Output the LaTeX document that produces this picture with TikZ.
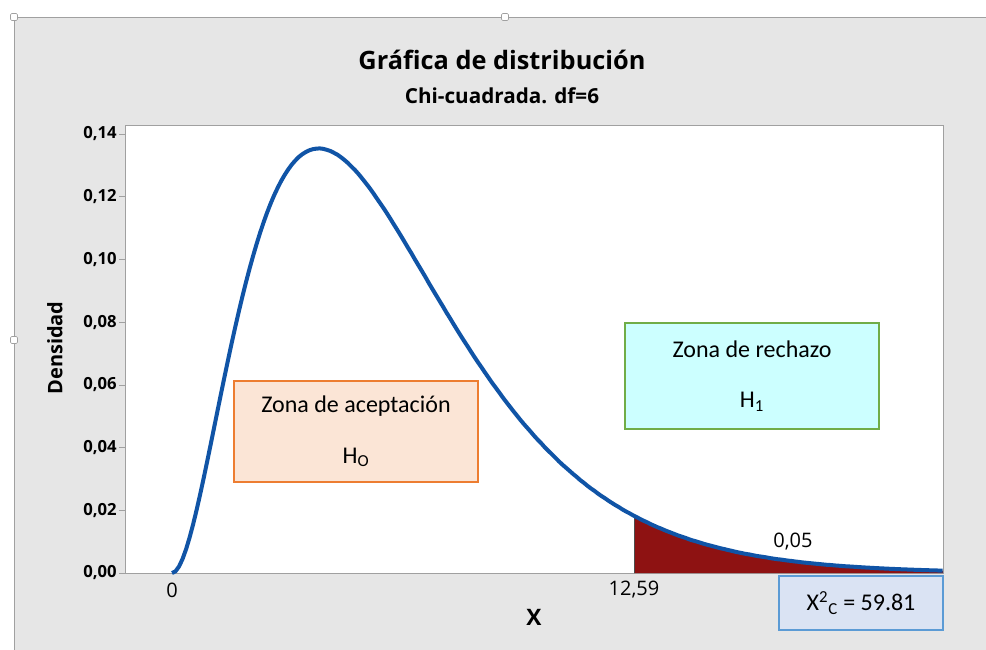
\documentclass[tikz,border=0pt]{standalone}
\usepackage{fontspec}
\setmainfont{Open Sans}
\newfontfamily\boxfont{Carlito}
\definecolor{panel}{RGB}{230,230,230}
\definecolor{frame}{RGB}{160,160,160}
\definecolor{curve}{RGB}{16,84,166}
\definecolor{tail}{RGB}{142,18,18}
\definecolor{peach}{RGB}{251,229,214}
\definecolor{orangeline}{RGB}{237,125,49}
\definecolor{cyanfill}{RGB}{204,255,255}
\definecolor{greenline}{RGB}{112,173,71}
\definecolor{bluefill}{RGB}{218,227,243}
\definecolor{blueline}{RGB}{91,155,213}

\begin{document}
\begin{tikzpicture}[x=0.75pt,y=-0.75pt,
  zonebox/.style={draw,line width=1.5pt,align=center,inner sep=0pt,
    font=\boxfont\fontsize{18}{38}\selectfont},
  ticklabel/.style={anchor=east,inner sep=0pt,font=\bfseries\fontsize{12.5}{14}\selectfont},
  axislabel/.style={inner sep=0pt,font=\fontsize{15}{18}\selectfont}]
\useasboundingbox (0,0) rectangle (986,650);
\fill[white] (0,0) rectangle (986,650);
\fill[panel] (14,17) rectangle (986,650);
\draw[frame] (986,17) -- (14,17) -- (14,650);
\foreach \p in {(14,17),(505,17),(14,340)}
  \draw[frame,fill=white,rounded corners=1pt] \p ++(-3.5,-3.5) rectangle ++(7,7);

% titles
\node[font=\bfseries\fontsize{19}{22}\selectfont] (title) at (502,60) {Gráfica de distribución};
\node[font=\bfseries\fontsize{15.5}{18}\selectfont] (subtitle) at (502,96) {Chi-cuadrada. df=6};

% plot area and y axis
\draw[frame,fill=white] (125,125) rectangle (943,573);
\foreach \v in {0,2,...,14} {
  \draw[frame] (119,{573-31.36*\v}) -- (125,{573-31.36*\v});
  \node[ticklabel] (yt\v) at (117,{573-31.36*\v}) {0,\ifnum\v<10 0\fi\v};
}
\node[rotate=90,font=\bfseries\fontsize{15}{18}\selectfont] (ylabel) at (55,348) {Densidad};

% rejection tail
\fill[tail] (634,573) -- plot[domain=12.59:21,samples=60]
  ({172+36.7*\x},{573-196*(\x*exp(-\x/4))^2}) -- (943,573) -- cycle;
\draw[black!70,line width=0.7pt] (634,573) -- (634,{573-196*(12.59*exp(-12.59/4))^2});
\draw[curve,line width=3pt,line join=round] plot[domain=0:21,samples=220]
  ({172+36.7*\x},{573-196*(\x*exp(-\x/4))^2});

% x axis labels
\node[axislabel] (x0) at (172,590) {0};
\node[axislabel] (xcrit) at (634,590) {12,59};
\node[axislabel] (alpha) at (793,542) {0,05};
\node[font=\bfseries\fontsize{17}{20}\selectfont] (xlabel) at (534,617) {X};

% zones
\node[zonebox,draw=orangeline,fill=peach,minimum width=183pt,minimum height=75.75pt]
  (aceptacion) at (356,431.5) {Zona de aceptación\\H\textsubscript{O}};
\node[zonebox,draw=greenline,fill=cyanfill,minimum width=190.5pt,minimum height=79.5pt]
  (rechazo) at (752,376) {Zona de rechazo\\H\textsubscript{1}};
\node[zonebox,draw=blueline,fill=bluefill,minimum width=123pt,minimum height=40.5pt]
  (chical) at (861,603) {X\textsuperscript{2}\textsubscript{C} = 59.81};
\end{tikzpicture}
\end{document}
